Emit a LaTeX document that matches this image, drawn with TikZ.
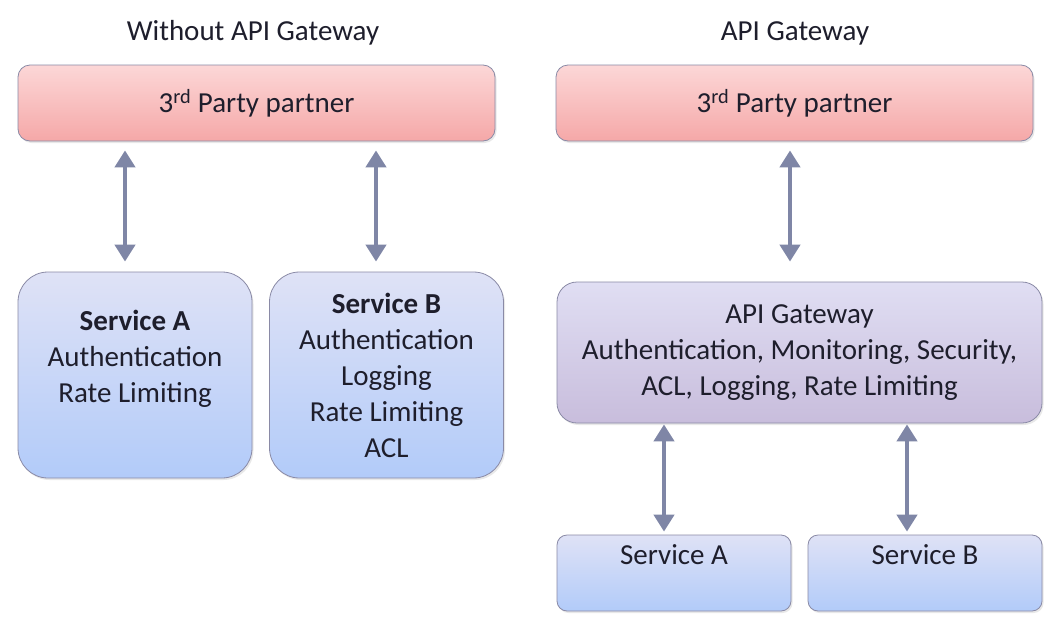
\documentclass[tikz,border=0pt]{standalone}
\usepackage{fontspec}
\setmainfont{Carlito}
\usetikzlibrary{arrows.meta,shadows}
\definecolor{txt}{HTML}{1E1E2C}
\definecolor{boxline}{HTML}{8A8AA6}
\definecolor{redtop}{HTML}{FCD7D7}
\definecolor{redbot}{HTML}{F5A8A8}
\definecolor{bluetop}{HTML}{DFE2F6}
\definecolor{bluebot}{HTML}{B2CBF9}
\definecolor{gwtop}{HTML}{E0DEF3}
\definecolor{gwbot}{HTML}{C8BDDC}
\definecolor{arrowc}{HTML}{7F86A6}
\begin{document}
\begin{tikzpicture}[x=1pt,y=-1pt,
  box/.style={draw=boxline, line width=0.8pt, align=center, text=txt,
    font=\fontsize{29}{36}\selectfont, inner sep=0pt,
    drop shadow={shadow xshift=1.5pt, shadow yshift=-2pt, opacity=0.18}},
  partybox/.style={box, top color=redtop, bottom color=redbot, rounded corners=12pt,
    minimum width=477pt, minimum height=76pt},
  svcbig/.style={box, top color=bluetop, bottom color=bluebot, rounded corners=30pt,
    minimum width=234pt, minimum height=206pt},
  svcsmall/.style={box, top color=bluetop, bottom color=bluebot, rounded corners=10pt,
    minimum width=234pt, minimum height=76pt},
  gwbox/.style={box, top color=gwtop, bottom color=gwbot, rounded corners=20pt,
    minimum width=485pt, minimum height=141pt},
  title/.style={text=txt, font=\fontsize{29}{35}\selectfont, inner sep=0pt},
  biarrow/.style={draw=arrowc, line width=4.5pt,
    {Triangle[width=20pt,length=17pt]}-{Triangle[width=20pt,length=17pt]}}
]
\useasboundingbox[fill=white] (0,0) rectangle (1058,627);

% titles
\node[title] (t1) at (253,33) {Without API Gateway};
\node[title] (t2) at (795,33) {API Gateway};

% left side
\node[partybox] (pl) at (256.5,103) {3\textsuperscript{rd} Party partner};
\node[svcbig] (sal) at (135,375) {\textbf{Service A}\\Authentication\\Rate Limiting\\[-10pt]\strut};
\node[svcbig] (sbl) at (386.5,375) {\textbf{Service B}\\Authentication\\Logging\\Rate Limiting\\ACL};

% right side
\node[partybox] (pr) at (794.5,103) {3\textsuperscript{rd} Party partner};
\node[gwbox] (gw) at (799.5,352.5) {API Gateway\\Authentication, Monitoring, Security,\\ACL, Logging, Rate Limiting};
\node[svcsmall] (sar) at (674,573) {Service A\\[-10pt]\strut};
\node[svcsmall] (sbr) at (925,573) {Service B\\[-10pt]\strut};

% connectors
\draw[biarrow, shorten <=9pt, shorten >=10pt] (pl.south -| 125,0) -- (sal.north -| 125,0);
\draw[biarrow, shorten <=9pt, shorten >=10pt] (pl.south -| 376,0) -- (sbl.north -| 376,0);
\draw[biarrow, shorten <=9pt, shorten >=20pt] (pr.south -| 790,0) -- (gw.north -| 790,0);
\draw[biarrow, shorten <=1pt, shorten >=3pt] (gw.south -| 664,0) -- (sar.north -| 664,0);
\draw[biarrow, shorten <=1pt, shorten >=3pt] (gw.south -| 907,0) -- (sbr.north -| 907,0);
\end{tikzpicture}
\end{document}
